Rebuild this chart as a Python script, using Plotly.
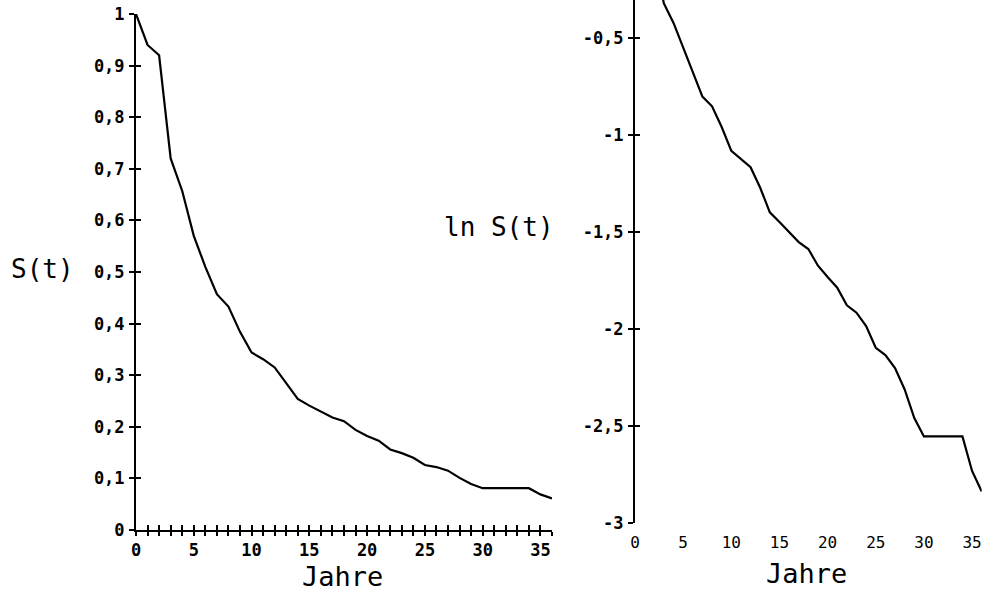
import plotly.graph_objects as go

# ---- data ----
jahre = list(range(0, 37))

s_t = [1.0, 0.94, 0.92, 0.72, 0.657, 0.57, 0.51, 0.457, 0.433, 0.384,
       0.344, 0.331, 0.315, 0.284, 0.254, 0.241, 0.229, 0.218, 0.211, 0.194,
       0.182, 0.173, 0.156, 0.149, 0.140, 0.126, 0.122, 0.115, 0.101, 0.089,
       0.081, 0.081, 0.081, 0.081, 0.081, 0.069, 0.061]

ln_s_t = [0.0, -0.06, -0.085, -0.32, -0.42, -0.55, -0.68, -0.80, -0.85, -0.957,
          -1.08, -1.12, -1.164, -1.27, -1.397, -1.447, -1.50, -1.55, -1.586, -1.672,
          -1.73, -1.785, -1.876, -1.914, -1.983, -2.095, -2.133, -2.20, -2.31, -2.457,
          -2.552, -2.552, -2.552, -2.552, -2.552, -2.73, -2.836]

left_y_vals = [0, 0.1, 0.2, 0.3, 0.4, 0.5, 0.6, 0.7, 0.8, 0.9, 1.0]
left_y_text = ["0", "0,1", "0,2", "0,3", "0,4", "0,5", "0,6", "0,7", "0,8", "0,9", "1"]
left_x_vals = list(range(0, 37))
left_x_text = [str(v) if v % 5 == 0 else "" for v in left_x_vals]

right_y_vals = [-3, -2.5, -2, -1.5, -1, -0.5]
right_y_text = ["-3", "-2,5", "-2", "-1,5", "-1", "-0,5"]
right_x_vals = [0, 5, 10, 15, 20, 25, 30, 35]
right_x_text = [str(v) for v in right_x_vals]

FONT = "DejaVu Sans Mono"
W, H = 994, 592

fig = go.Figure()
fig.add_trace(go.Scatter(x=jahre, y=s_t, mode="lines", xaxis="x", yaxis="y",
                         line=dict(color="black", width=2.2), showlegend=False,
                         hoverinfo="skip"))
fig.add_trace(go.Scatter(x=jahre, y=ln_s_t, mode="lines", xaxis="x2", yaxis="y2",
                         line=dict(color="black", width=2.2), showlegend=False,
                         hoverinfo="skip"))
# empty helper traces so the overlay axes (inner half of the cross ticks) are drawn
fig.add_trace(go.Scatter(x=[None], y=[None], mode="lines", xaxis="x3", yaxis="y3",
                         showlegend=False, hoverinfo="skip"))
fig.add_trace(go.Scatter(x=[None], y=[None], mode="lines", xaxis="x2", yaxis="y4",
                         showlegend=False, hoverinfo="skip"))

tickfont_b = dict(family=FONT, size=17, color="black", weight="bold")
tickfont_n = dict(family=FONT, size=16, color="black")

lx = [136 / W, 552 / W]
ly = [(H - 530) / H, (H - 14) / H]
rx = [635 / W, 981.7 / W]
ry = [(H - 523.3) / H, 1.0]

common = dict(showgrid=False, zeroline=False, fixedrange=True, automargin=False)

fig.update_layout(
    width=W, height=H, autosize=False,
    margin=dict(l=0, r=0, t=0, b=0, pad=0, autoexpand=False),
    paper_bgcolor="white", plot_bgcolor="white",
    showlegend=False,
    # left panel
    xaxis=dict(domain=lx, range=[0, 36], anchor="y", tickmode="array",
               tickvals=left_x_vals, ticktext=left_x_text, ticks="outside",
               ticklen=4, tickwidth=2, tickcolor="black", showline=True,
               linecolor="black", linewidth=2, tickfont=tickfont_b,
               ticklabelstandoff=0, **common),
    yaxis=dict(domain=ly, range=[0, 1], anchor="x", tickmode="array",
               tickvals=left_y_vals, ticktext=left_y_text, ticks="outside",
               ticklen=5, tickwidth=2, tickcolor="black", showline=True,
               linecolor="black", linewidth=2, tickfont=tickfont_b,
               ticklabelstandoff=1, **common),
    xaxis3=dict(overlaying="x", anchor="y", side="bottom", range=[0, 36],
                tickmode="array", tickvals=left_x_vals, ticks="inside", ticklen=5,
                tickwidth=2, tickcolor="black", showticklabels=False,
                showline=False, **common),
    yaxis3=dict(overlaying="y", anchor="x", side="left", range=[0, 1],
                tickmode="array", tickvals=left_y_vals, ticks="inside", ticklen=5,
                tickwidth=2, tickcolor="black", showticklabels=False,
                showline=False, **common),
    # right panel
    xaxis2=dict(domain=rx, range=[0, 36], anchor="y2", tickmode="array",
                tickvals=right_x_vals, ticktext=right_x_text, ticks="",
                showline=False, tickfont=tickfont_n, ticklabelstandoff=8, **common),
    yaxis2=dict(domain=ry, range=[-3, -0.302], anchor="x2", tickmode="array",
                tickvals=right_y_vals, ticktext=right_y_text, ticks="outside",
                ticklen=5, tickwidth=2, tickcolor="black", showline=True,
                linecolor="black", linewidth=2, tickfont=tickfont_b,
                ticklabelstandoff=1, **common),
    yaxis4=dict(overlaying="y2", anchor="x2", side="left", range=[-3, -0.302],
                tickmode="array", tickvals=right_y_vals, ticks="inside", ticklen=5,
                tickwidth=2, tickcolor="black", showticklabels=False,
                showline=False, **common),
)

ann_font = dict(family=FONT, size=26, color="black")
fig.add_annotation(text="S(t)", xref="paper", yref="y", x=42 / W, y=0.505,
                   xanchor="center", yanchor="middle", showarrow=False, font=ann_font)
fig.add_annotation(text="ln S(t)", xref="paper", yref="y2", x=499 / W, y=-1.47,
                   xanchor="center", yanchor="middle", showarrow=False, font=ann_font)
fig.add_annotation(text="Jahre", xref="x", yref="paper", x=17.9, y=(H - 576.7) / H,
                   xanchor="center", yanchor="middle", showarrow=False,
                   font=dict(family=FONT, size=27, color="black"))
fig.add_annotation(text="Jahre", xref="x2", yref="paper", x=17.8, y=(H - 573.3) / H,
                   xanchor="center", yanchor="middle", showarrow=False,
                   font=dict(family=FONT, size=27, color="black"))

fig.write_html(
    "out.html",
    config={"displayModeBar": False, "staticPlot": True},
    post_script="document.body.style.margin='0';document.body.style.overflow='hidden';",
)
